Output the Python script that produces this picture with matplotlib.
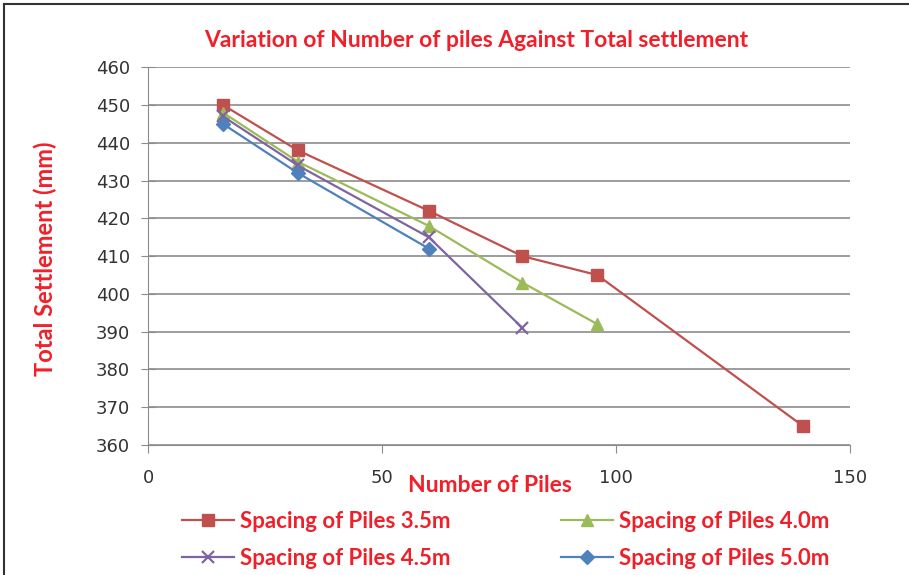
import matplotlib.pyplot as plt
from matplotlib.lines import Line2D

# number of piles vs total settlement for each spacing
piles_35 = [16, 32, 60, 80, 96, 140]
sett_35 = [450, 438, 422, 410, 405, 365]
piles_40 = [16, 32, 60, 80, 96]
sett_40 = [448, 435, 418, 403, 392]
piles_45 = [16, 32, 60, 80]
sett_45 = [447, 434, 415, 391]
piles_50 = [16, 32, 60]
sett_50 = [445, 432, 412]

labels = ["Spacing of Piles 3.5m", "Spacing of Piles 4.0m",
          "Spacing of Piles 4.5m", "Spacing of Piles 5.0m"]

red_txt = "#f0202a"
fnt = ["Lato", "DejaVu Sans"]

fig = plt.figure(figsize=(9.09, 5.75), dpi=100)
ax = fig.add_axes([0.163, 0.226, 0.772, 0.657])

h35, = ax.plot(piles_35, sett_35, color="#c0504d", lw=1.6, marker="s", ms=9)
h40, = ax.plot(piles_40, sett_40, color="#9bbb59", lw=1.6, marker="^", ms=9)
h45, = ax.plot(piles_45, sett_45, color="#8064a2", lw=1.6, marker="x", ms=9, mew=1.6)
h50, = ax.plot(piles_50, sett_50, color="#4f81bd", lw=1.6, marker="D", ms=7)

ax.set_xlim(0, 150)
ax.set_ylim(360, 460)
ax.set_xticks([0, 50, 100, 150])
ax.set_yticks(range(360, 461, 10))
ax.yaxis.grid(True, color="#8c8c8c", lw=1.2)
ax.set_axisbelow(True)
for s in ["top", "right"]:
    ax.spines[s].set_visible(False)
for s in ["left", "bottom"]:
    ax.spines[s].set_color("#8c8c8c")
ax.tick_params(colors="#8c8c8c", labelcolor="#333333", labelsize=13)
ax.tick_params(axis="y", direction="inout", length=10, pad=8)
ax.tick_params(axis="x", direction="out", length=6, pad=11)

fig.text(0.524, 0.93, "Variation of Number of piles Against Total settlement",
         ha="center", va="center", color=red_txt, fontsize=16.5, fontweight="bold", family=fnt)
fig.text(0.539, 0.155, "Number of Piles", ha="center", va="center",
         color=red_txt, fontsize=16.5, fontweight="bold", family=fnt)
fig.text(0.05, 0.55, "Total Settlement (mm)", ha="center", va="center", rotation=90,
         color=red_txt, fontsize=17, fontweight="bold", family=fnt)

# column-major order so rows read 3.5 / 4.0 then 4.5 / 5.0
leg = fig.legend([h35, h45, h40, h50], [labels[0], labels[2], labels[1], labels[3]],
                 loc="upper left", bbox_to_anchor=(0.2, 0.112), ncol=2, frameon=False,
                 handlelength=2.35, handletextpad=0.25, columnspacing=5.0, labelspacing=0.75,
                 borderaxespad=0, borderpad=0,
                 prop={"family": fnt, "weight": "bold", "size": 16})
for t in leg.get_texts():
    t.set_color(red_txt)

# outer chart frame (only left and top visible)
fig.add_artist(Line2D([0.004, 0.004], [0, 0.993], color="#333333", lw=1.5))
fig.add_artist(Line2D([0.004, 1], [0.993, 0.993], color="#333333", lw=1.5))

fig.savefig("out.png", dpi=100)
